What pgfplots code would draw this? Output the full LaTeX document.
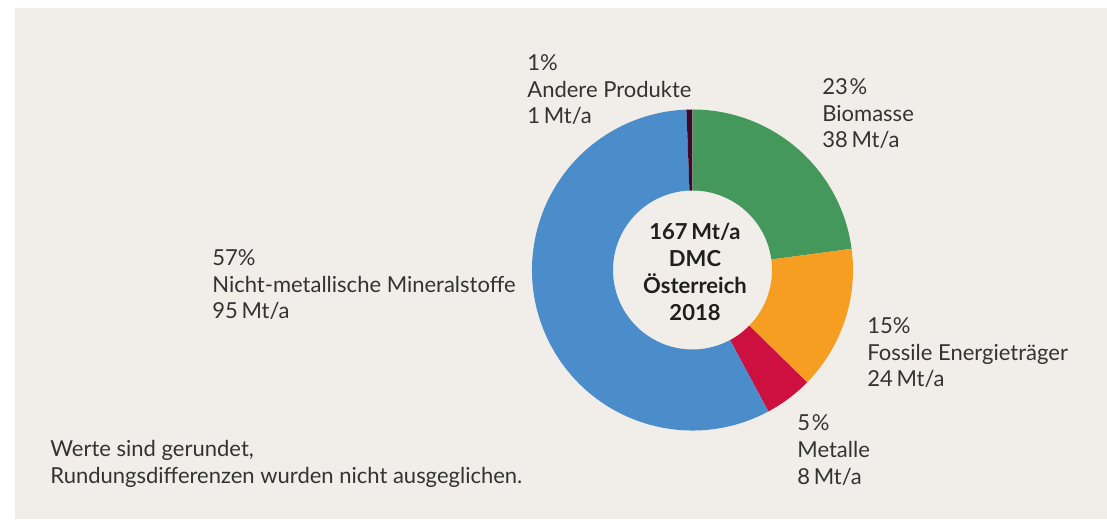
\documentclass[border=0pt]{standalone}
\usepackage{pgfplots}
\usepackage{pgfplotstable}
\pgfplotsset{compat=1.18}
\usepackage{fontspec}
\setmainfont{Lato}
\usetikzlibrary{calc}

\definecolor{bg}{HTML}{F1EEE9}
\definecolor{txt}{HTML}{333333}
\definecolor{cbio}{HTML}{45985B}
\definecolor{cfos}{HTML}{F59E22}
\definecolor{cmet}{HTML}{CD1040}
\definecolor{cmin}{HTML}{4A8DCA}
\definecolor{cand}{HTML}{3B0A28}

% DMC Oesterreich 2018, Mt/a
\pgfplotstableread{
name value col
Biomasse 38 cbio
Fossile 24 cfos
Metalle 8 cmet
Mineral 95 cmin
Andere 1 cand
}\slices

\tikzset{lab/.style={anchor=base west, inner sep=0pt, text=txt,
  font=\fontsize{11}{13}\selectfont},
  mid/.style={anchor=base, inner sep=0pt, text=black!88,
  font=\fontsize{11}{13}\selectfont\bfseries}}
\newcommand{\lab}[5]{%
  \node[lab] at (axis cs:#1,#2) {#3};
  \node[lab, yshift=-13.25pt] at (axis cs:#1,#2) {#4};
  \node[lab, yshift=-26.5pt] at (axis cs:#1,#2) {#5};
}

\begin{document}
\begin{tikzpicture}
\begin{axis}[
  width=553.5pt, height=259.5pt, scale only axis,
  xmin=0, xmax=1107, ymin=0, ymax=519,
  hide axis, clip=false,
]
\fill[white] (axis cs:0,0) rectangle (axis cs:1107,519);
\fill[bg] (axis cs:15,0) rectangle (axis cs:1107,511);
\coordinate (c) at (axis cs:692.5,249);

\lab{527}{448}{1\%}{Andere Produkte}{1\,Mt/a}
\lab{822}{424}{23\kern0.8pt\%}{Biomasse}{38\,Mt/a}
\lab{867}{185}{15\%}{Fossile Energieträger}{24\,Mt/a}
\lab{797}{88}{5\kern0.8pt\%}{Metalle}{8\,Mt/a}
\lab{212}{253}{57\%}{Nicht-metallische Mineralstoffe}{95\,Mt/a}

\node[lab] at (axis cs:50,62) {Werte sind gerundet,};
\node[lab, yshift=-13.25pt] at (axis cs:50,62) {Rundungsdifferenzen wurden nicht ausgeglichen.};
\end{axis}

\pgfplotstablegetrowsof{\slices}
\pgfmathtruncatemacro\nlast{\pgfplotsretval-1}
\gdef\total{0}
\foreach \i in {0,...,\nlast}{
  \pgfplotstablegetelem{\i}{value}\of\slices
  \pgfmathsetmacro\tmp{\total+\pgfplotsretval}
  \xdef\total{\tmp}
}
\xdef\acur{90}
\foreach \i in {0,...,\nlast}{
  \pgfplotstablegetelem{\i}{value}\of\slices
  \pgfmathsetmacro\anext{\acur-\pgfplotsretval/\total*360}
  \pgfplotstablegetelem{\i}{col}\of\slices
  \edef\col{\pgfplotsretval}
  \fill[\col] ($(c)+(\acur:80.25pt)$) arc[start angle=\acur, end angle=\anext, radius=80.25pt]
    -- ($(c)+(\anext:39.75pt)$) arc[start angle=\anext, end angle=\acur, radius=39.75pt] -- cycle;
  \xdef\acur{\anext}
}

% centre text
\node[mid] at ($(c)+(1.25pt,15pt)$) {167\,Mt/a};
\node[mid] at ($(c)+(1.25pt,1.5pt)$) {DMC};
\node[mid] at ($(c)+(1.25pt,-12pt)$) {Österreich};
\node[mid] at ($(c)+(1.25pt,-25.5pt)$) {2018};
\end{tikzpicture}
\end{document}
